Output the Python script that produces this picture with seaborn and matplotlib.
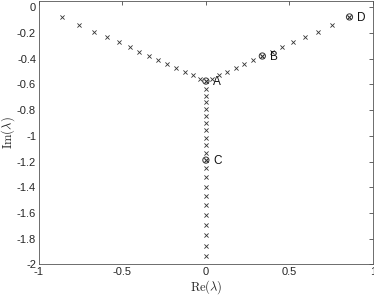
import matplotlib
matplotlib.use("Agg")
import matplotlib.pyplot as plt
import seaborn as sns
import pandas as pd

# Eigenvalue spectrum (Re, Im)
left_re = [-0.862, -0.757, -0.669, -0.593, -0.523, -0.457, -0.398, -0.338,
           -0.284, -0.230, -0.178, -0.128, -0.078, -0.034]
left_im = [-0.075, -0.139, -0.190, -0.231, -0.273, -0.312, -0.348, -0.379,
           -0.413, -0.442, -0.473, -0.502, -0.530, -0.561]
right_re = [0.034, 0.078, 0.128, 0.178, 0.230, 0.284, 0.338, 0.398,
            0.457, 0.523, 0.593, 0.669, 0.757, 0.860]
right_im = [-0.561, -0.530, -0.502, -0.473, -0.442, -0.413, -0.379, -0.348,
            -0.312, -0.273, -0.231, -0.190, -0.139, -0.075]
vert_im = [-0.574, -0.636, -0.687, -0.739, -0.792, -0.847, -0.901, -0.958,
           -1.016, -1.074, -1.132, -1.189, -1.254, -1.324, -1.397, -1.467,
           -1.540, -1.618, -1.696, -1.774, -1.857, -1.937]
vert_re = [0.0] * len(vert_im)

# Marked modes
mark_labels = ["A", "B", "C", "D"]
mark_re = [0.0, 0.338, 0.0, 0.860]
mark_im = [-0.574, -0.379, -1.189, -0.075]

x_ticks = [-1, -0.5, 0, 0.5, 1]
x_ticklabels = ["-1", "-0.5", "0", "0.5", "1"]
y_ticks = [0, -0.2, -0.4, -0.6, -0.8, -1, -1.2, -1.4, -1.6, -1.8, -2]
y_ticklabels = ["0", "-0.2", "-0.4", "-0.6", "-0.8", "-1", "-1.2", "-1.4",
                "-1.6", "-1.8", "-2"]

sns.set_style("white")
plt.rcParams["font.family"] = ["Liberation Sans", "DejaVu Sans"]
plt.rcParams["mathtext.fontset"] = "cm"

df = pd.DataFrame({
    "re": left_re + right_re + vert_re,
    "im": left_im + right_im + vert_im,
})
marks = pd.DataFrame({"re": mark_re, "im": mark_im, "label": mark_labels})

fig = plt.figure(figsize=(3.74, 2.95), dpi=100)
ax = fig.add_axes([0.104, 0.104, 0.893, 0.893])

sns.scatterplot(data=df, x="re", y="im", marker="x", s=9, color="#333333",
                linewidth=0.6, ax=ax, zorder=3)
sns.scatterplot(data=marks, x="re", y="im", marker="x", s=9, color="#333333",
                linewidth=0.6, ax=ax, zorder=3)
sns.scatterplot(data=marks, x="re", y="im", marker="o", s=20,
                facecolor="none", edgecolor="#333333", linewidth=0.7, ax=ax,
                zorder=4)
for _, r in marks.iterrows():
    ax.text(r["re"] + 0.045, r["im"] - 0.01, r["label"], fontsize=8.5,
            ha="left", va="center", color="#111111")

ax.set_xlim(-1, 1)
ax.set_ylim(-2, 0.05)
ax.set_xticks(x_ticks)
ax.set_xticklabels(x_ticklabels)
ax.set_yticks(y_ticks)
ax.set_yticklabels(y_ticklabels)
ax.tick_params(direction="in", length=3, width=0.5, labelsize=8,
               top=True, right=True, color="#262626", labelcolor="#262626",
               pad=2)
for s in ax.spines.values():
    s.set_linewidth(0.6)
    s.set_color("#555555")
ax.set_xlabel(r"$\mathrm{Re}(\lambda)$", fontsize=9, labelpad=1)
ax.set_ylabel(r"$\mathrm{Im}(\lambda)$", fontsize=9, labelpad=0)

fig.savefig("out.png", dpi=100)
